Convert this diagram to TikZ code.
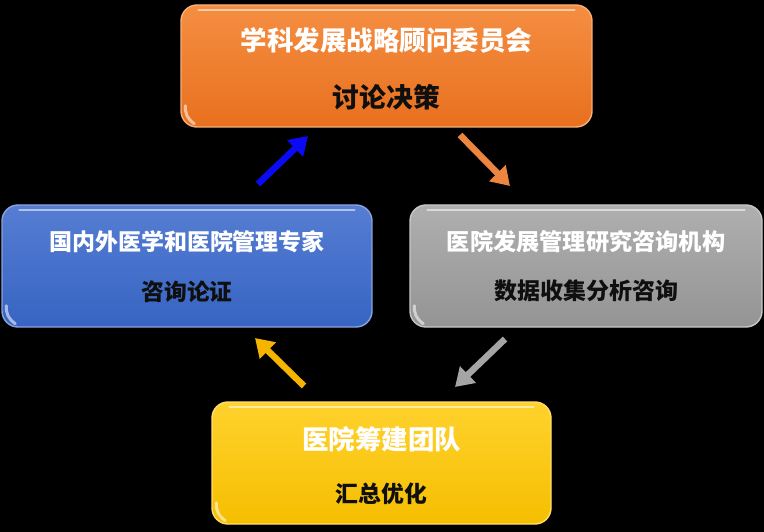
\documentclass[tikz,border=0pt]{standalone}
\usepackage{fontspec}
\setmainfont{Noto Sans CJK SC}
\usetikzlibrary{arrows.meta,calc}
\definecolor{orTop}{RGB}{245,142,66}
\definecolor{orBot}{RGB}{232,112,30}
\definecolor{blTop}{RGB}{85,125,210}
\definecolor{blBot}{RGB}{55,100,195}
\definecolor{grTop}{RGB}{175,175,175}
\definecolor{grBot}{RGB}{148,148,148}
\definecolor{yeTop}{RGB}{255,210,45}
\definecolor{yeBot}{RGB}{245,190,0}
\definecolor{txtDark}{RGB}{15,15,15}
\tikzset{
  box/.style={rectangle, rounded corners=16pt, minimum height=122pt, inner sep=0pt, line width=1.4pt},
  title/.style={text=white, inner sep=0pt},
  sub/.style={text=txtDark, inner sep=0pt},
  fs/.style={font=\bfseries\fontsize{#1}{#1}\selectfont},
  flow/.style={line width=6.5pt, -{Triangle[length=18pt,width=22pt]}},
  gloss/.style={white, line width=2pt, opacity=0.55, line cap=round}
}
\begin{document}
\begin{tikzpicture}[x=1pt,y=-1pt]
\fill[black] (0,0) rectangle (764,532);
\useasboundingbox (0,0) rectangle (764,532);
% boxes
\node[box, minimum width=411pt, top color=orTop, bottom color=orBot, draw=orTop!70!white] (A) at (386.5,66) {};
\node[box, minimum width=339pt, top color=yeTop, bottom color=yeBot, draw=yeTop!70!white] (D) at (381.5,463) {};
\node[box, minimum width=352pt, top color=grTop, bottom color=grBot, draw=grTop!70!white] (C) at (586,266) {};
\node[box, minimum width=370pt, top color=blTop, bottom color=blBot, draw=blTop!70!white] (B) at (187,266) {};
% gloss highlights
\foreach \n in {A,B,C,D}{
  \draw[gloss] ($(\n.north west)+(18,6)$) -- ($(\n.north east)+(-18,6)$);
  \draw[gloss, line width=3pt] ($(\n.south west)+(5,-22)$) to[bend right=30] ($(\n.south west)+(14,-4)$);
}
% texts
\node[title, fs=26.5] (At) at (386.5,40) {学科发展战略顾问委员会};
\node[sub, fs=26.8] (As) at (386.5,97) {讨论决策};
\node[title, fs=23] (Bt) at (187,242) {国内外医学和医院管理专家};
\node[sub, fs=22.8] (Bs) at (187,292) {咨询论证};
\node[title, fs=23.2] (Ct) at (586,242) {医院发展管理研究咨询机构};
\node[sub, fs=23] (Cs) at (586,291) {数据收集分析咨询};
\node[title, fs=26.5] (Dt) at (381.5,439) {医院筹建团队};
\node[sub, fs=22.8] (Ds) at (381.5,494) {汇总优化};
% arrow endpoints
\coordinate (b1) at (258,184);
\coordinate (b2) at (308,136);
\coordinate (o1) at (460,135);
\coordinate (o2) at (510,186);
\coordinate (g1) at (505,339);
\coordinate (g2) at (455,387);
\coordinate (y1) at (304,386);
\coordinate (y2) at (255,338);
\draw[flow, color={rgb,255:red,10;green,10;blue,245}] (b1) -- (b2);
\draw[flow, color=orBot!85!white] (o1) -- (o2);
\draw[flow, color={rgb,255:red,165;green,165;blue,165}] (g1) -- (g2);
\draw[flow, color={rgb,255:red,245;green,180;blue,0}] (y1) -- (y2);
\end{tikzpicture}
\end{document}
